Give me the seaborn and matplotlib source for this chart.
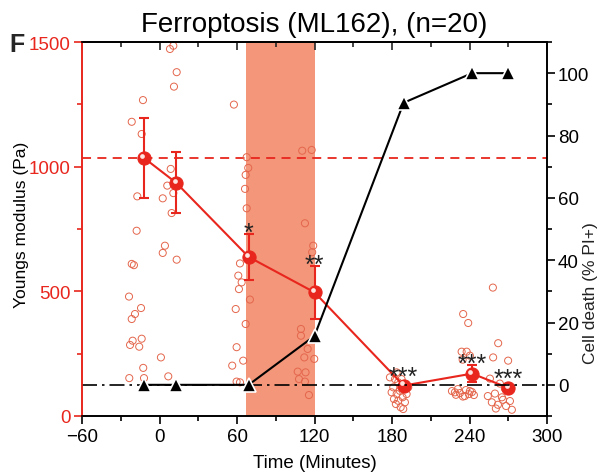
import matplotlib
matplotlib.use("Agg")
import matplotlib.pyplot as plt
import matplotlib.transforms as mtransforms
from matplotlib.ticker import MultipleLocator
import pandas as pd
import seaborn as sns

# Mean Young's modulus per time point (Pa) with SEM
mean_time = [-12, 13, 69, 120, 189, 242, 270]
mean_modulus = [1035, 935, 638, 496, 122, 170, 113]
sem_modulus = [162, 122, 92, 106, 14, 33, 10]
significance = ["", "", "*", "**", "***", "***", "***"]

# Cell death (% PI+) at the same time points
death_time = [-12, 13, 69, 120, 189, 242, 270]
death_pct = [0, 0, 0, 15.7, 90.5, 100, 100]

baseline_modulus = 1035
treatment_window = (67, 120)

# Individual cell measurements (time in minutes, modulus in Pa)
cells_a_time = [-21.5, -12.8, -13.8, -17.2, -17.7, -21.5, -19.8, -23.6, -14.3,
                -19.0, -21.5, -20.8, -22.8, -13.8, -15.7, -12.6, -23.4, -12.0]
cells_a_mod = [1180, 1267, 1131, 881, 743, 610, 605, 479, 433,
               409, 389, 302, 285, 310, 278, 193, 152, 152]

cells_b_time = [10.7, 8.1, 13.3, 11.2, 8.7, 6.0, 10.7, 2.5, 9.4, 4.2, 2.5, 13.3, 1.1, 6.8]
cells_b_mod = [1485, 1472, 1379, 1321, 991, 924, 894, 873, 814, 683, 654, 627, 235, 159]

cells_c_time = [57.6, 67.5, 68.7, 66.7, 66.2, 67.5, 62.3, 61.0, 63.6,
                61.5, 70.0, 59.0, 66.7, 59.7, 64.8, 56.3, 59.7, 62.3]
cells_c_mod = [1249, 1038, 995, 967, 911, 833, 612, 563, 536,
               509, 467, 429, 369, 276, 222, 202, 138, 135]

cells_d_time = [110.5, 117.8, 112.6, 119.0, 118.2, 109.5, 109.5, 114.7,
                112.1, 119.8, 107.0, 113.1, 108.0, 112.6, 115.7]
cells_d_mod = [1064, 1067, 773, 683, 657, 349, 322, 269,
               235, 229, 178, 175, 148, 138, 84]

cells_e_time = [178.4, 182.3, 181.0, 184.8, 179.7, 183.6, 186.1, 181.5, 184.8,
                188.2, 190.0, 186.7, 188.7, 183.0, 191.3, 192.6, 183.6, 187.4]
cells_e_mod = [155, 148, 115, 135, 95, 88, 101, 68, 61,
               75, 55, 35, 28, 48, 88, 115, 175, 148]

cells_f_time = [235.1, 239.0, 233.9, 237.8, 240.3, 234.7, 226.4, 229.5, 232.6,
                234.9, 237.2, 239.5, 241.9, 231.0, 236.4, 240.3, 228.7, 243.4]
cells_f_mod = [409, 373, 258, 258, 242, 226, 100, 85, 92,
               78, 104, 88, 96, 108, 80, 100, 95, 84]

cells_g_time = [258.1, 262.2, 258.3, 269.9, 255.8, 263.5, 267.4, 259.7, 265.1,
                271.3, 257.3, 262.0, 268.3, 260.4, 272.8, 265.9, 254.2]
cells_g_mod = [515, 292, 235, 222, 150, 130, 110, 90, 75,
               60, 55, 45, 40, 30, 25, 65, 80]

x_ticks = [-60, 0, 60, 120, 180, 240, 300]
left_ticks = [0, 500, 1000, 1500]
right_ticks = [0, 20, 40, 60, 80, 100]

RED = "#e8261d"
CELL_RED = "#e4664c"
SHADE = "#f3967a"

cells = pd.DataFrame({
    "time": (cells_a_time + cells_b_time + cells_c_time + cells_d_time
             + cells_e_time + cells_f_time + cells_g_time),
    "modulus": (cells_a_mod + cells_b_mod + cells_c_mod + cells_d_mod
                + cells_e_mod + cells_f_mod + cells_g_mod),
})
means = pd.DataFrame({"time": mean_time, "modulus": mean_modulus, "sem": sem_modulus})
death = pd.DataFrame({"time": death_time, "pct": death_pct})

sns.set_theme(style="white")
plt.rcParams["font.family"] = ["Liberation Sans", "DejaVu Sans"]

fig = plt.figure(figsize=(6.05, 4.77), dpi=100)
ax = fig.add_axes([82 / 605, 60 / 477, 465 / 605, 374 / 477])
ax2 = ax.twinx()

# treatment window
ax.axvspan(*treatment_window, color=SHADE, lw=0, zorder=0)

# baseline modulus
ax.axhline(baseline_modulus, color=RED, lw=1.3, dashes=(5, 3.5), zorder=1)

# individual cells
sns.scatterplot(data=cells, x="time", y="modulus", ax=ax, marker="o", s=26,
                facecolor="none", edgecolor=CELL_RED, linewidth=0.7, zorder=2,
                legend=False)

# mean +/- SEM
ax.errorbar(means["time"], means["modulus"], yerr=means["sem"], fmt="none",
            ecolor=RED, elinewidth=1.5, capsize=3.5, capthick=1.5, zorder=3)
sns.lineplot(data=means, x="time", y="modulus", ax=ax, color=RED, lw=1.5,
             marker="o", markersize=9.5, markeredgecolor=RED, sort=False,
             zorder=4, legend=False)
highlight = mtransforms.offset_copy(ax.transData, fig=fig, x=-1.2, y=1.5, units="points")
ax.plot(means["time"], means["modulus"], ls="none", marker="o", markersize=3.4,
        color="#ffe4e0", mec="none", transform=highlight, zorder=5)

# significance markers, kept clear of the mean marker when the SEM is tiny
for t, m, e, lab in zip(mean_time, mean_modulus, sem_modulus, significance):
    if lab:
        ax.annotate(lab, xy=(t, max(m + e, m + 30)), xytext=(0, -4),
                    textcoords="offset points", ha="center", va="baseline",
                    fontsize=18, color="#222222", zorder=6)

# cell death curve
ax2.axhline(0, color="black", lw=1.2, dashes=(9, 3, 1.5, 3), zorder=1)
sns.lineplot(data=death, x="time", y="pct", ax=ax2, color="black", lw=1.5,
             marker="^", markersize=10, markeredgecolor="white",
             markeredgewidth=1.2, sort=False, legend=False, zorder=3)

# axes limits and ticks
ax.set_xlim(-60, 300)
ax.set_ylim(0, 1500)
ax2.set_ylim(-10, 110)
ax.set_xticks(x_ticks)
ax.set_yticks(left_ticks)
ax2.set_yticks(right_ticks)
ax.xaxis.set_minor_locator(MultipleLocator(30))
ax.yaxis.set_minor_locator(MultipleLocator(250))
ax2.yaxis.set_minor_locator(MultipleLocator(10))

ax.tick_params(axis="x", which="major", direction="out", length=6, width=1.2,
               colors="black", labelsize=13.5, pad=3, bottom=True)
ax.tick_params(axis="x", which="minor", direction="out", length=3.5, width=1.2,
               colors="black", bottom=True)
ax.tick_params(axis="y", which="major", direction="out", length=6, width=1.2,
               colors=RED, labelsize=13.5, pad=2, left=True)
ax.tick_params(axis="y", which="minor", direction="out", length=3.5, width=1.2,
               colors=RED, left=True)
ax2.tick_params(axis="y", which="major", direction="out", length=6, width=1.2,
                colors="black", labelsize=13.5, pad=2, right=True)
ax2.tick_params(axis="y", which="minor", direction="out", length=3.5, width=1.2,
                colors="black", right=True)

top = ax.secondary_xaxis("top")
top.set_xticks(x_ticks)
top.xaxis.set_minor_locator(MultipleLocator(30))
top.tick_params(which="major", direction="in", length=6, width=1.2, labeltop=False)
top.tick_params(which="minor", direction="in", length=3.5, width=1.2)

for sp in ("left", "right", "top", "bottom"):
    ax.spines[sp].set_linewidth(1.2)
    ax2.spines[sp].set_linewidth(1.2)
    ax.spines[sp].set_color("black")
    ax2.spines[sp].set_color("black")
ax2.spines["left"].set_color(RED)
ax.spines["left"].set_color(RED)
top.spines["top"].set_linewidth(1.2)

ax.set_xlabel("Time (Minutes)", fontsize=13.5, labelpad=6, color="black")
ax.set_ylabel("Youngs modulus (Pa)", fontsize=12.5, color="black")
ax.yaxis.set_label_coords(-0.113, 0.515)
ax2.set_ylabel("Cell death (% PI+)", fontsize=12.5, color="#222222")
ax2.yaxis.set_label_coords(1.077, 0.33)
ax.set_title("Ferroptosis (ML162), (n=20)", fontsize=20, pad=8, color="black")
fig.text(0.015, 1 - 45 / 477, "F", fontsize=18, fontweight="bold", va="center", ha="left")

fig.savefig("out.png", dpi=100)
